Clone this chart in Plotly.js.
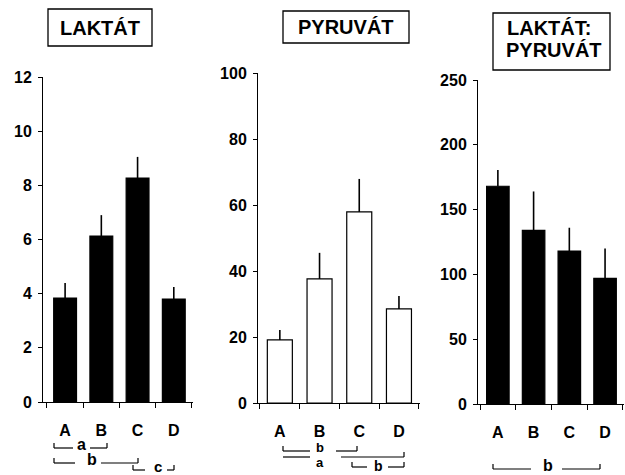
<!DOCTYPE html>
<html>
<head>
<meta charset="utf-8">
<script src="https://cdn.plot.ly/plotly-3.0.1.min.js"></script>
<style>html,body{margin:0;padding:0;background:#fff;}#chart{width:625px;height:475px;}</style>
</head>
<body>
<div id="chart"></div>
<script>
// ---- data ----
const groups = ["A", "B", "C", "D"];
const laktat = [3.84, 6.13, 8.27, 3.80];
const laktatErr = [0.55, 0.77, 0.78, 0.45];
const pyruvat = [19.1, 37.6, 57.9, 28.5];
const pyruvatErr = [3.0, 7.9, 10.0, 3.9];
const ratio = [168, 134, 118, 97];
const ratioErr = [12.5, 30, 18, 23];
const laktatTicks = [0, 2, 4, 6, 8, 10, 12];
const pyruvatTicks = [0, 20, 40, 60, 80, 100];
const ratioTicks = [0, 50, 100, 150, 200, 250];
const titles = ["LAKTÁT", "PYRUVÁT", "LAKTÁT:", "PYRUVÁT"];

// ---- helpers ----
const W = 625, H = 475;
const px = x => x / W;
const py = y => (H - y) / H;
const FONT = "Liberation Sans, Arial, sans-serif";
const zeros = groups.map(() => 0);

function barTrace(vals, errs, xa, ya, fill) {
  return {
    type: "bar", x: groups, y: vals, xaxis: xa, yaxis: ya, width: 0.63,
    marker: {color: fill, line: {color: "#000", width: 1.2}},
    error_y: {type: "data", symmetric: false, array: errs, arrayminus: zeros,
              width: 0, thickness: 1.6, color: "#000"},
    hoverinfo: "skip", showlegend: false
  };
}

function xAxis(d0, d1, r0, anchor) {
  return {
    domain: [px(d0), px(d1)], range: [r0, 3.53], type: "category", anchor: anchor,
    tickmode: "array", tickvals: groups, ticktext: groups.map(g => "<b>" + g + "</b>"),
    showline: true, linecolor: "#000", linewidth: 1, showgrid: false, zeroline: false,
    ticks: "outside", tickson: "boundaries", ticklen: 5, tickcolor: "#000", tickwidth: 1,
    ticklabelstandoff: 14,
    tickfont: {family: FONT, size: 16, color: "#000"}, fixedrange: true
  };
}
function yAxis(b, t, range, tv, anchor) {
  return {
    domain: [py(b), py(t)], range: range, anchor: anchor,
    tickmode: "array", tickvals: tv, ticktext: tv.map(v => "<b>" + v + "</b>"),
    showline: true, linecolor: "#000", linewidth: 1, showgrid: false, zeroline: false,
    ticks: "outside", ticklen: 4, tickcolor: "#000", tickwidth: 1, ticklabelstandoff: 3,
    tickfont: {family: FONT, size: 16, color: "#000"}, fixedrange: true
  };
}

const data = [
  barTrace(laktat, laktatErr, "x", "y", "#000"),
  barTrace(pyruvat, pyruvatErr, "x2", "y2", "#fff"),
  barTrace(ratio, ratioErr, "x3", "y3", "#000")
];

// ---- title boxes ----
const shapes = [];
const annotations = [];
function rect(x0, y0, x1, y1) {
  shapes.push({type: "rect", xref: "paper", yref: "paper", x0: px(x0), x1: px(x1), y0: py(y1), y1: py(y0),
               line: {color: "#000", width: 1.3}, fillcolor: "rgba(0,0,0,0)"});
}
function text(t, x, y, size, anchor) {
  annotations.push({text: "<b>" + t + "</b>", xref: "paper", yref: "paper", x: px(x), y: py(y), showarrow: false,
    xanchor: anchor || "center", yanchor: "middle",
    font: {family: FONT, size: size, color: "#000"}});
}
rect(48, 9, 152, 46); text(titles[0], 100, 28, 20);
rect(283, 11, 409, 43); text(titles[1], 346, 27, 20);
rect(493, 13, 610, 70); text(titles[2], 505, 28, 20, "left"); text(titles[3], 504, 50, 20, "left");

// ---- significance brackets ----
function seg(x0, y0, x1, y1) {
  shapes.push({type: "line", xref: "paper", yref: "paper", x0: px(x0), y0: py(y0), x1: px(x1), y1: py(y1),
               line: {color: "#000", width: 1.2}});
}
function bracket(xl, xle, lab, xlab, xrs, xr, y, tickL, tickR, ly, size) {
  seg(xl, y, xle, y); seg(xrs, y, xr, y);
  if (tickL) seg(xl, y, xl, y - 5);
  if (tickR) seg(xr, y, xr, y - 5);
  text(lab, xlab, ly, size || 16);
}
// panel 1
bracket(54, 73, "a", 81, 90, 107, 448, true, true, 444);
bracket(54, 75, "b", 92, 101, 138, 463, true, true, 459);
bracket(133, 145, "c", 158, 167, 174, 470, true, true, 466, 15);
// panel 2
bracket(283, 310, "b", 320, 336, 357, 451, true, true, 447, 13);
bracket(283, 310, "a", 320, 341, 404, 457, false, true, 462, 13);
bracket(352, 367, "b", 378, 388, 404, 467, true, true, 466, 14);
// panel 3
bracket(493, 531, "b", 548, 562, 600, 469, true, true, 465);

const layout = {
  width: W, height: H, margin: {l: 0, r: 0, t: 0, b: 0},
  paper_bgcolor: "#fff", plot_bgcolor: "rgba(0,0,0,0)",
  showlegend: false,
  xaxis: xAxis(43, 193, -0.61, "y"),
  yaxis: yAxis(402, 77, [0, 12], laktatTicks, "x"),
  xaxis2: xAxis(258, 420, -0.55, "y2"),
  yaxis2: yAxis(403, 73, [0, 100], pyruvatTicks, "x2"),
  xaxis3: xAxis(478, 624, -0.556, "y3"),
  yaxis3: yAxis(404, 80, [0, 250], ratioTicks, "x3"),
  shapes: shapes, annotations: annotations
};

Plotly.newPlot("chart", data, layout, {staticPlot: true, displayModeBar: false});
</script>
</body>
</html>
